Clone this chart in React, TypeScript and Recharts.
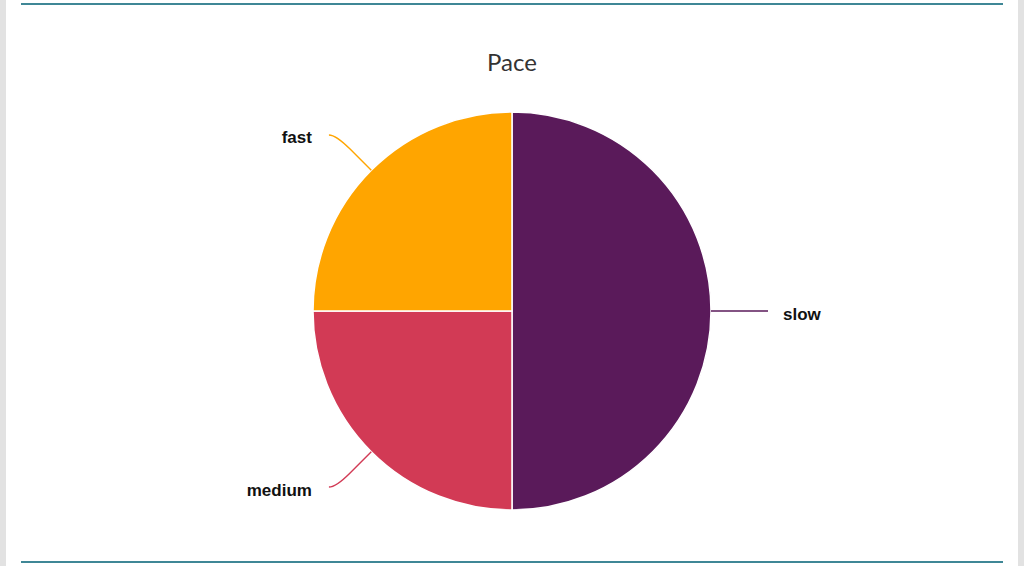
import { PieChart, Pie, Cell } from "recharts";

const NAMES = ["slow", "medium", "fast"];
const VALUES = [2, 1, 1];
const COLORS = ["#5a1a5a", "#d23a55", "#ffa500"];
const TITLE = "Pace";

const data = NAMES.map((name, i) => ({ name, value: VALUES[i] }));

const RADIAN = Math.PI / 180;

// highcharts-like label with a bent connector
function renderLabel(props: any) {
  const { cx, cy, midAngle, outerRadius, name, index } = props;
  const cos = Math.cos(-midAngle * RADIAN);
  const sin = Math.sin(-midAngle * RADIAN);
  const dir = cos >= 0 ? 1 : -1;
  const px = cx + outerRadius * cos;
  const py = cy + outerRadius * sin;
  const bx = cx + (outerRadius + 30) * cos;
  const by = cy + (outerRadius + 30) * sin;
  const kx = cx + (outerRadius + 50) * cos;
  const ky = cy + (outerRadius + 50) * sin;
  const ex = kx + dir * 7;
  const ey = ky;
  const color = COLORS[index % COLORS.length];
  return (
    <g key={`lbl-${index}`}>
      <path
        d={`M${px},${py} L${bx},${by} Q${kx},${ky} ${ex},${ey}`}
        stroke={color}
        strokeWidth={1.4}
        fill="none"
      />
      <text
        x={ex + dir * (dir > 0 ? 15 : 17)}
        y={ey + 3}
        textAnchor={dir > 0 ? "start" : "end"}
        dominantBaseline="central"
        fontFamily="'Liberation Sans', Arial, sans-serif"
        fontWeight="bold"
        fontSize={17}
        fill="#111"
      >
        {name}
      </text>
    </g>
  );
}

export default function App() {
  return (
    <div
      style={{
        position: "fixed",
        left: 0,
        top: 0,
        width: 1024,
        height: 566,
        background: "#fff",
        overflow: "hidden",
      }}
    >
      <div style={{ position: "absolute", left: 0, top: 0, width: 6, height: 566, background: "#e2e2e2" }} />
      <div style={{ position: "absolute", left: 1018, top: 0, width: 6, height: 566, background: "#e2e2e2" }} />
      <div style={{ position: "absolute", left: 21, top: 3, width: 982, height: 2, background: "#3f8796" }} />
      <div style={{ position: "absolute", left: 21, top: 561, width: 982, height: 2, background: "#3f8796" }} />
      <div
        style={{
          position: "absolute",
          left: 0,
          top: 46,
          width: 1024,
          textAlign: "center",
          fontFamily: "Lato, 'Open Sans', sans-serif",
          fontSize: 24,
          lineHeight: "32px",
          color: "#333",
        }}
      >
        {TITLE}
      </div>
      <div style={{ position: "absolute", left: 0, top: 0 }}>
        <PieChart width={1024} height={566} margin={{ top: 0, right: 0, bottom: 0, left: 0 }}>
          <Pie
            data={data}
            dataKey="value"
            nameKey="name"
            cx={512}
            cy={311}
            outerRadius={199}
            startAngle={90}
            endAngle={-270}
            stroke="#fff"
            strokeWidth={1.5}
            label={renderLabel}
            labelLine={false}
            isAnimationActive={false}
          >
            {data.map((d, i) => (
              <Cell key={d.name} fill={COLORS[i]} />
            ))}
          </Pie>
        </PieChart>
      </div>
    </div>
  );
}
